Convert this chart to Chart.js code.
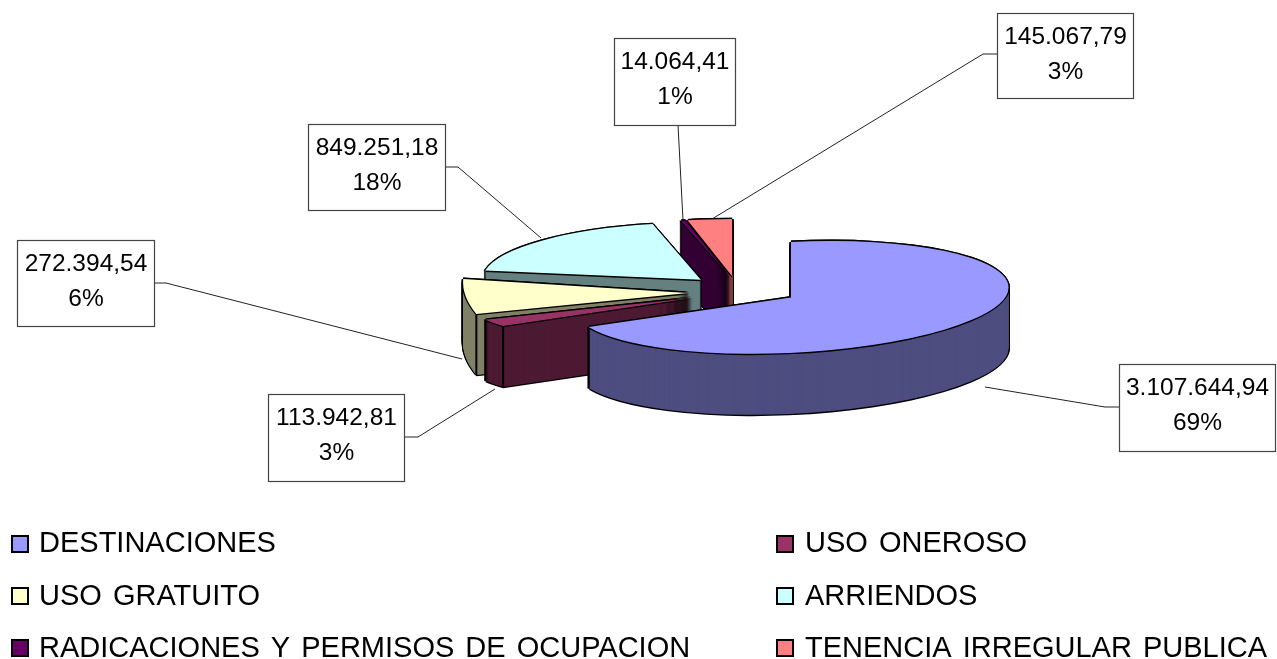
<!DOCTYPE html>
<html><head><meta charset="utf-8">
<style>html,body{margin:0;padding:0;background:#fff}#w{width:1277px;height:659px;position:relative}</style>
<script src="https://cdn.jsdelivr.net/npm/chart.js@4/dist/chart.umd.js"></script>
</head><body><div id="w"><canvas id="c" width="1277" height="659"></canvas></div>
<script>
const categories = ["DESTINACIONES","USO ONEROSO","USO GRATUITO","ARRIENDOS","RADICACIONES Y PERMISOS DE OCUPACION","TENENCIA IRREGULAR PUBLICA"];
const values = [3107644.94,113942.81,272394.54,849251.18,14064.41,145067.79];
const valueLabels = ["3.107.644,94","113.942,81","272.394,54","849.251,18","14.064,41","145.067,79"];
const percentLabels = ["69%","3%","6%","18%","1%","3%"];
const topColors = ["#9999FF","#993366","#FFFFCC","#CCFFFF","#660066","#FF8080"];
const wallColors = ["#4D4D80","#4D1A33","#808066","#668080","#330033","#804040"];

// presentation only: the perspective of each exploded slice
const SQUASH = 0.257, DEPTH = 61, EXPLODE = 58, RADIUS = 222;
const arcTweak = [
  {tx:3,ty:1,a:0.98,b:-0.045,c:0,d:0.25},
  {tx:7.5,ty:5.6,a:1.003,b:-0.058,c:0.224,d:0.196},
  {tx:6,ty:4.6,a:1.005,b:-0.005,c:0.13,d:0.417},
  {tx:3,ty:2,a:0.985,b:0,c:0,d:SQUASH},
  {tx:2,ty:3,a:1,b:0,c:0,d:SQUASH},
  {tx:-2,ty:3,a:1,b:0,c:0,d:SQUASH}
];
const paintOrder = [5,4,3,2,1,0];
const callouts = [
  {box:[1119,364,156,87], line:[[1119,407],[1105,407],[985,387]]},
  {box:[268,394,136,87], line:[[404,437],[418,437],[495,389]]},
  {box:[17,240,137,86], line:[[154,283],[166,283],[462,359]]},
  {box:[308,124,137,86], line:[[445,167],[458,167],[541,238]]},
  {box:[614,38,121,87], line:[[678,125],[683,220]]},
  {box:[997,13,136,85], line:[[997,54],[983,54],[712,219]]}
];
const legendCols = [[12,39],[777,805]];
const legendRows = [[536,552],[588,605],[640,657]];
const legendCell = [[0,0],[1,0],[0,1],[1,1],[0,2],[1,2]];

const pie3d = {
  id:'pie3d',
  beforeDatasetsDraw(chart){
    const ctx = chart.ctx, arcs = chart.getDatasetMeta(0).data;
    const place = (arc,i,dy,ox,oy)=>{
      const t = arcTweak[i], mid=(arc.startAngle+arc.endAngle)/2;
      const ax=Math.cos(mid)*EXPLODE, ay=Math.sin(mid)*EXPLODE;
      return {a:t.a,b:t.b,c:t.c,d:t.d,
        e:arc.x+ax+t.tx+ox, f:arc.y+ay*SQUASH+t.ty+dy+oy, cx:arc.x, cy:arc.y};
    };
    const layer = (arc,i,dy,color,ox=0,oy=0)=>{
      const m = place(arc,i,dy,ox,oy), saved = arc.options;
      arc.options = Object.assign({},saved,{backgroundColor:color,borderWidth:0,offset:0,spacing:0});
      ctx.save();
      ctx.transform(m.a,m.b,m.c,m.d,m.e,m.f);
      ctx.translate(-m.cx,-m.cy);
      arc.draw(ctx);
      ctx.restore();
      arc.options = saved;
    };
    const OUT = [[-1.4,0],[1.4,0],[0,-1.4],[0,1.4]];
    paintOrder.forEach(i=>{
      const arc = arcs[i];
      for(let d=DEPTH;d>=0;d-=1) OUT.forEach(o=>layer(arc,i,d,'#000',o[0],o[1]));
      for(let d=DEPTH;d>=1;d-=1) layer(arc,i,d,wallColors[i]);
      // vertical edges on front-facing corners
      const m = place(arc,i,0,0,0);
      [arc.startAngle,arc.endAngle].forEach(an=>{
        if(Math.sin(an)<=0.02) return;
        const lx=Math.cos(an)*RADIUS, ly=Math.sin(an)*RADIUS;
        const X=m.a*lx+m.c*ly+m.e, Y=m.b*lx+m.d*ly+m.f;
        ctx.save();ctx.strokeStyle='#000';ctx.lineWidth=2;ctx.beginPath();
        ctx.moveTo(X,Y);ctx.lineTo(X,Y+DEPTH);ctx.stroke();ctx.restore();
      });
      OUT.forEach(o=>layer(arc,i,0,'#000',o[0],o[1]));
      layer(arc,i,0,topColors[i]);
    });
    return false;
  },
  afterDraw(chart){
    const ctx = chart.ctx;
    ctx.save();
    callouts.forEach((c,i)=>{
      ctx.strokeStyle='#222';ctx.lineWidth=1;ctx.beginPath();
      c.line.forEach((p,j)=>j?ctx.lineTo(p[0],p[1]):ctx.moveTo(p[0],p[1]));ctx.stroke();
      const [x,y,w,h]=c.box;
      ctx.fillStyle='#fff';ctx.fillRect(x,y,w,h);
      ctx.strokeStyle='#444';ctx.lineWidth=1.2;ctx.strokeRect(x+.5,y+.5,w,h);
      ctx.fillStyle='#000';ctx.font='24.5px "Liberation Sans", Arial, sans-serif';
      ctx.textAlign='center';ctx.textBaseline='alphabetic';
      ctx.fillText(valueLabels[i],x+w/2+.5,y+31);
      ctx.fillText(percentLabels[i],x+w/2+.5,y+66);
    });
    ctx.textAlign='left';
    ctx.font='29px "Liberation Sans", Arial, sans-serif';
    ctx.wordSpacing='3px';
    categories.forEach((name,i)=>{
      const [cl,rw]=legendCell[i],[sx,tx]=legendCols[cl],[sy,by]=legendRows[rw];
      ctx.fillStyle=topColors[i];ctx.fillRect(sx,sy,16,16);
      ctx.strokeStyle='#000';ctx.lineWidth=2;ctx.strokeRect(sx,sy,16,16);
      ctx.fillStyle='#000';ctx.fillText(name,tx,by);
    });
    ctx.restore();
  }
};

new Chart(document.getElementById('c'),{
  type:'pie',
  data:{labels:categories,datasets:[{data:values,backgroundColor:topColors,borderWidth:0}]},
  options:{
    responsive:false,animation:false,radius:RADIUS,
    layout:{padding:{left:203,right:0,top:0,bottom:83}},
    plugins:{legend:{display:false},tooltip:{enabled:false}},
    events:[]
  },
  plugins:[pie3d]
});
</script></body></html>
